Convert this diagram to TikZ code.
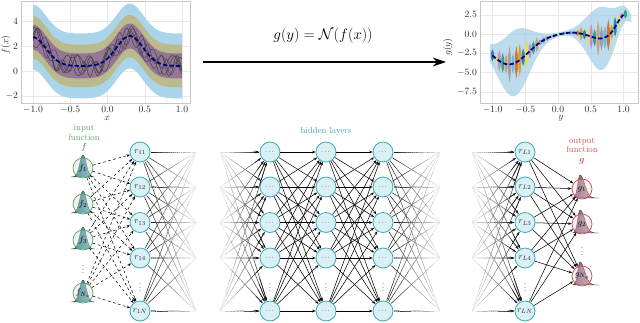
\documentclass[tikz,border=0pt]{standalone}
\usepackage{amsmath,bm}
\usetikzlibrary{arrows.meta,calc}

\definecolor{nodefill}{RGB}{217,240,244}
\definecolor{nodeline}{RGB}{62,168,184}
\definecolor{inGreen}{RGB}{96,160,96}
\definecolor{outRed}{RGB}{200,80,70}
\definecolor{hidTeal}{RGB}{60,160,180}
\definecolor{bellA}{RGB}{30,100,130}
\definecolor{bellB}{RGB}{125,190,205}
\definecolor{gbellA}{RGB}{125,85,115}
\definecolor{gbellB}{RGB}{210,175,200}
\definecolor{bandBlue}{RGB}{170,212,234}
\definecolor{bandOlive}{RGB}{186,186,140}
\definecolor{bandPurple}{RGB}{150,118,150}
\definecolor{envBlue}{RGB}{160,205,230}
\definecolor{meanBlue}{RGB}{0,0,128}
\definecolor{pal0}{HTML}{DE8F05}
\definecolor{pal1}{HTML}{0173B2}
\definecolor{pal2}{HTML}{ECE133}
\definecolor{pal3}{HTML}{CC78BC}
\definecolor{pal4}{HTML}{029E73}
\definecolor{pal5}{HTML}{CA9161}
\definecolor{pal6}{HTML}{949494}
\definecolor{pal7}{HTML}{56B4E9}
\definecolor{pal8}{HTML}{D55E00}

\tikzset{
  neuron/.style={circle, draw=nodeline, fill=nodefill, line width=0.9pt,
    minimum size=8mm, inner sep=0pt, text=black!85},
  fnode/.style={circle, draw=inGreen, fill=inGreen!30, fill opacity=0.35,
    text opacity=1, line width=0.8pt, minimum size=8mm, inner sep=0pt},
  gnode/.style={circle, draw=outRed, fill=outRed!25, fill opacity=0.35,
    text opacity=1, line width=0.8pt, minimum size=8mm, inner sep=0pt},
  fbell/.style={draw=black!75, line width=0.4pt, left color=bellA, right color=bellB},
  gbell/.style={draw=black!80, line width=0.4pt, left color=gbellA, right color=gbellB},
  dasharrow/.style={dashed, line width=0.6pt, -{Stealth[length=4pt,width=3pt]}},
  solidarrow/.style={line width=0.6pt, -{Stealth[length=4pt,width=3pt]}},
  ticklab/.style={font=\fontsize{10.5}{12}\selectfont, text=black!85},
  gridline/.style={gray!18, line width=0.4pt},
  plotframe/.style={gray!45, line width=0.6pt},
  sample/.style={black!75, line width=0.5pt},
  meanline/.style={meanBlue, line width=2pt, dash pattern=on 5pt off 2.5pt},
  vdotsnode/.style={inner sep=0pt},
}

% fading connectors, drawn as pieces going to white
\newcommand{\fadeout}[3][]{%
  \coordinate (fs) at ($(#2)!4.4mm!(#3)$);
  \foreach \k in {0,...,7}{%
    \pgfmathtruncatemacro\tone{88-\k*11}%
    \draw[black!\tone, line width=0.6pt, #1] ($(fs)!\k/8!(#3)$) -- ($(fs)!{(\k+1)/8}!(#3)$);
  }%
}
\newcommand{\fadein}[3][]{%
  \coordinate (fe) at ($(#3)!4.4mm!(#2)$);
  \foreach \k in {0,...,7}{%
    \pgfmathtruncatemacro\tone{10+\k*11}%
    \draw[black!\tone, line width=0.6pt, #1] ($(#2)!\k/8!(fe)$) -- ($(#2)!{(\k+1)/8}!(fe)$);
  }%
  \draw[black!90, line width=0.6pt, -{Stealth[length=4pt,width=3pt]}, #1] ($(#2)!0.85!(fe)$) -- (fe);
}

\begin{document}
\begin{tikzpicture}[x=0.4mm, y=-0.4mm,
  declare function={
    gs(\u)=exp(-((\u)*(\u)));
    mf(\t)=0.4+2.3*gs((\t+1)/0.25)+2.4*gs((\t-0.3)/0.255);
    gm(\t)=-3.95*gs((\t+0.75)/0.42)+0.2*gs((\t-0.2)/0.2)-0.6*gs((\t-0.65)/0.2)+2.6*gs((\t-1.03)/0.17);
    hw(\t)=4.1*gs((\t+0.65)/0.32)+3.9*gs((\t-0.66)/0.29)+0.2;
    fb(\t)=22*gs(\t/4.6);
    gb(\t)=23*gs((\t+2)/((\t<-2)?3.2:6.5));
  }]
\useasboundingbox (0,0) rectangle (640,323);

% input plot f(x)
\begin{scope}[shift={(107.5,71)}, xscale=74.5, yscale=-12.5]
  \foreach \gx in {-1,-0.5,...,1} \draw[gridline] (\gx,-2.56) -- (\gx,5.6);
  \foreach \gy in {-2,0,2,4} \draw[gridline] (-1.161,\gy) -- (1.107,\gy);
  \fill[bandBlue] plot[domain=-1:1,samples=80] (\x,{mf(\x)+2.6})
    -- plot[domain=1:-1,samples=80] (\x,{mf(\x)-2.6}) -- cycle;
  \fill[bandOlive] plot[domain=-1:1,samples=80] (\x,{mf(\x)+1.7})
    -- plot[domain=1:-1,samples=80] (\x,{mf(\x)-1.7}) -- cycle;
  \fill[bandPurple] plot[domain=-1:1,samples=80] (\x,{mf(\x)+1.0})
    -- plot[domain=1:-1,samples=80] (\x,{mf(\x)-1.0}) -- cycle;
  \draw[sample] plot[domain=-1:1,samples=150] (\x,{mf(\x)+0.8*sin(1250*\x+40)});
  \draw[sample] plot[domain=-1:1,samples=150] (\x,{mf(\x)+0.6*sin(1900*\x+150)+0.35*sin(700*\x+10)});
  \draw[sample] plot[domain=-1:1,samples=150] (\x,{mf(\x)-0.7*sin(1500*\x+250)});
  \draw[sample] plot[domain=-1:1,samples=150] (\x,{mf(\x)+0.9*sin(1000*\x+300)*cos(400*\x)});
  \draw[sample] plot[domain=-1:1,samples=150] (\x,{mf(\x)+0.5*sin(2300*\x+90)+0.4*cos(800*\x)});
  \draw[meanline] plot[domain=-1:1,samples=80] (\x,{mf(\x)});
  \draw[plotframe] (-1.161,-2.56) rectangle (1.107,5.6);
  \foreach \gx/\lab [count=\c] in {-1/-1.0,-0.5/-0.5,0/0.0,0.5/0.5,1/1.0}
    \node[ticklab, below] (fx\c) at (\gx,-2.56) {$\lab$};
  \foreach \gy [count=\c] in {-2,0,2,4}
    \node[ticklab, left] (fy\c) at (-1.161,\gy) {$\gy$};
\end{scope}
\node[ticklab] (xlab) at (107,118) {$x$};
\node[ticklab, rotate=90] (flab) at (6,45) {$f(x)$};

% output plot g(y)
\begin{scope}[shift={(558,34)}, xscale=65.5, yscale=-7.7]
  \foreach \gx in {-1,-0.5,...,1} \draw[gridline] (\gx,-8.96) -- (\gx,4.29);
  \foreach \gy in {2.5,0,-2.5,-5,-7.5} \draw[gridline] (-1.191,\gy) -- (1.221,\gy);
  \fill[envBlue, opacity=0.7] plot[domain=-1.04:1.12,samples=90] (\x,{gm(\x)+hw(\x)})
    -- plot[domain=1.12:-1.04,samples=90] (\x,{gm(\x)-hw(\x)}) -- cycle;
  \foreach \b [count=\c] in {-1.0,-0.948,...,1.08}{
    \pgfmathtruncatemacro\cc{mod(\c,9)}
    \pgfmathsetmacro\bc{gm(\b)}
    \pgfmathsetmacro\bh{(0.45+0.15*sin(\c*137))*hw(\b)}
    \fill[pal\cc, opacity=0.8] (\b,{\bc+\bh}) -- ({\b+0.022},{\bc+0.45*\bh})
      -- ({\b+0.022},{\bc-0.45*\bh}) -- (\b,{\bc-\bh})
      -- ({\b-0.022},{\bc-0.45*\bh}) -- ({\b-0.022},{\bc+0.45*\bh}) -- cycle;
  }
  \draw[meanline] plot[domain=-1:1,samples=80] (\x,{gm(\x)});
  \draw[plotframe] (-1.191,-8.96) rectangle (1.221,4.29);
  \foreach \gx/\lab [count=\c] in {-1/-1.0,-0.5/-0.5,0/0.0,0.5/0.5,1/1.0}
    \node[ticklab, below] (gx\c) at (\gx,-8.96) {$\lab$};
  \foreach \gy/\lab [count=\c] in {2.5/2.5,0/0.0,-2.5/-2.5,-5/-5.0,-7.5/-7.5}
    \node[ticklab, left] (gy\c) at (-1.191,\gy) {$\lab$};
\end{scope}
\node[ticklab] (ylab) at (561,118) {$y$};
\node[ticklab, rotate=90] (glab) at (448,47) {$g(y)$};

% operator arrow
\coordinate (arrA) at (203,62);
\coordinate (arrB) at (446,62);
\draw[line width=1.5pt, -{Stealth[length=15pt,width=10pt]}] (arrA) -- (arrB);
\node[font=\fontsize{18}{20}\selectfont] (eqn) at (323,36) {$g(y)=\mathcal{N}(f(x))$};

% labels
\node[text=inGreen, align=center, font=\fontsize{10}{10.5}\selectfont] (inlab) at (84,138) {input\\function\\$\bm{f}$};
\node[text=outRed, align=center, font=\fontsize{10}{10.5}\selectfont] (outlab) at (582,151) {output\\function\\$\bm{g}$};
\node[text=hidTeal] (hidlab) at (326,131) {hidden layers};

% input functions
\foreach \i/\yy/\lab in {1/168/1, 2/204/2, 3/240/3, 4/293/{N_x}}{
  \path[fbell] plot[domain=-12:12,samples=40] ({83+\x},{\yy+9-fb(\x)}) -- cycle;
  \node[fnode] (f\i) at (83,\yy) {$f_{\lab}$};
}
\node[vdotsnode] (fdots) at (83,267) {$\vdots$};

% output functions
\foreach \i/\yy/\lab in {1/189/1, 2/224/2, 3/276/{N_y}}{
  \path[gbell] plot[domain=-9:17,samples=50] ({582+\x},{\yy+9-gb(\x)}) -- cycle;
  \node[gnode] (g\i) at (582,\yy) {$g_{\lab}$};
}
\node[vdotsnode] (gdots) at (582,249) {$\vdots$};

% layers
\foreach \i/\yy/\lab in {1/152/11, 2/187/12, 3/222.5/13, 4/258/14, 5/311/1N}
  \node[neuron] (r1-\i) at (140,\yy) {$r_{\lab}$};
\foreach \i/\yy/\lab in {1/152/L1, 2/187/L2, 3/222.5/L3, 4/258/L4, 5/311/LN}
  \node[neuron] (rL-\i) at (525,\yy) {$r_{\lab}$};
\foreach \c/\cx in {1/270, 2/326, 3/383}{
  \foreach \i/\yy in {1/152, 2/187, 3/222.5, 4/258, 5/311}
    \node[neuron] (h\c-\i) at (\cx,\yy) {\footnotesize$\cdots$};
  \node[vdotsnode] (hdots\c) at (\cx,285) {$\vdots$};
}
\node[vdotsnode] (r1dots) at (140,285) {$\vdots$};
\node[vdotsnode] (rLdots) at (525,285) {$\vdots$};

% loose ends of the cut connections
\foreach \j/\yy in {1/152, 2/187, 3/222.5, 4/258, 5/311}{
  \coordinate (oa-\j) at (196,\yy);
  \coordinate (ia-\j) at (220,\yy);
  \coordinate (ob-\j) at (440,\yy);
  \coordinate (ib-\j) at (472,\yy);
  \coordinate (dotA-\j) at (184,\yy);
  \coordinate (dinA-\j) at (226,\yy);
  \coordinate (dotB-\j) at (428,\yy);
  \coordinate (dinB-\j) at (483,\yy);
}

% connections
\foreach \i in {1,...,4}
  \foreach \j in {1,...,5}
    \draw[dasharrow] (f\i) -- (r1-\j);
\foreach \i in {1,...,5}{
  \foreach \j in {1,...,5}{
    \fadeout{r1-\i}{oa-\j}
    \fadein{ia-\j}{h1-\i}
    \draw[solidarrow] (h1-\i) -- (h2-\j);
    \draw[solidarrow] (h2-\i) -- (h3-\j);
    \fadeout{h3-\i}{ob-\j}
    \fadein{ib-\j}{rL-\i}
  }
  \fadeout[dotted]{r1-\i}{dotA-\i}
  \fadein[dotted]{dinA-\i}{h1-\i}
  \fadeout[dotted]{h3-\i}{dotB-\i}
  \fadein[dotted]{dinB-\i}{rL-\i}
  \foreach \k in {1,2,3}
    \draw[solidarrow] (rL-\i) -- (g\k);
}

\end{tikzpicture}
\end{document}
